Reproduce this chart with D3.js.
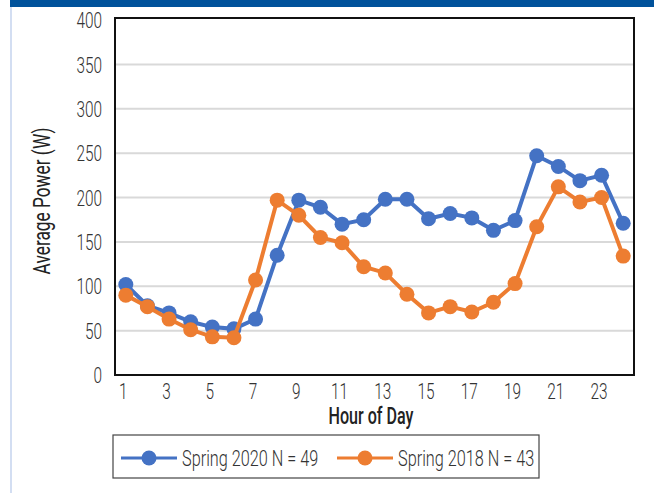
<!DOCTYPE html>
<html>
<head>
  <script src="https://d3js.org/d3.v7.min.js"></script>
  <style>
    body { margin: 0; background: #fff; }
    svg { display: block; }
    text { font-family: Roboto, "DejaVu Sans", sans-serif; font-weight: 300; fill: #333; }
  </style>
</head>
<body>
  <svg width="654" height="493"></svg>
  <script>
    // hours and the two seasons
    var hours = d3.range(1, 25);
    var spring2020 = [102, 78, 70, 60, 54, 52, 63, 135, 197, 189, 170, 175, 198, 198, 176, 182, 177, 163, 174, 247, 235, 219, 225, 171];
    var spring2018 = [90, 77, 63, 51, 43, 42, 107, 197, 180, 155, 149, 122, 115, 91, 70, 77, 71, 82, 103, 167, 212, 195, 200, 134];
    var yTicks = [0, 50, 100, 150, 200, 250, 300, 350, 400];
    var xTickLabels = [1, 3, 5, 7, 9, 11, 13, 15, 17, 19, 21, 23];
    var seriesNames = ["Spring 2020 N = 49", "Spring 2018 N = 43"];
    var colors = ["#4472c4", "#ed7d31"];

    var svg = d3.select("svg");
    var mLeft = 115, mRight = 634, mTop = 20, mBottom = 375;
    var squeeze = "scale(0.7,1)";

    // page decoration
    svg.append("rect").attr("x", 10).attr("y", 0).attr("width", 644).attr("height", 7).attr("fill", "#00529b");
    svg.append("line").attr("x1", 11).attr("x2", 11).attr("y1", 7).attr("y2", 493)
      .attr("stroke", "#c5d3ee").attr("stroke-width", 1.5);

    var x = d3.scalePoint().domain(hours).range([mLeft + 10.8, mRight - 10.8]);
    var y = d3.scaleLinear().domain([0, 400]).range([mBottom, mTop]);

    // gridlines
    svg.append("g").selectAll("line").data(yTicks.slice(1, -1)).enter().append("line")
      .attr("x1", mLeft).attr("x2", mRight)
      .attr("y1", function(d) { return y(d); }).attr("y2", function(d) { return y(d); })
      .attr("stroke", "#d9d9d9").attr("stroke-width", 2);

    // y axis
    var yAxis = svg.append("g").attr("transform", "translate(" + (mLeft - 13) + ",0)")
      .call(d3.axisLeft(y).tickValues(yTicks).tickSize(0).tickPadding(0));
    yAxis.select(".domain").remove();
    yAxis.selectAll("text").attr("font-family", null).attr("font-size", null)
      .style("font-size", "22px").attr("dy", "0.35em").attr("fill", "#333").attr("transform", squeeze);

    // x axis
    var xAxis = svg.append("g").attr("transform", "translate(0," + (mBottom + 5) + ")")
      .call(d3.axisBottom(x).tickValues(xTickLabels).tickSize(0).tickPadding(0));
    xAxis.select(".domain").remove();
    xAxis.selectAll("text").style("font-size", "22px").attr("dy", "0.85em").attr("fill", "#333")
      .attr("transform", "translate(-3,0) " + squeeze);
    svg.selectAll(".tick text").style("font-family", "Roboto, sans-serif");

    // lines and markers
    [spring2020, spring2018].forEach(function(vals, i) {
      var pts = hours.map(function(h, j) { return {h: h, v: vals[j]}; });
      svg.append("path").datum(pts)
        .attr("fill", "none").attr("stroke", colors[i]).attr("stroke-width", 4)
        .attr("d", d3.line().x(function(d) { return x(d.h); }).y(function(d) { return y(d.v); }));
      svg.append("g").selectAll("circle").data(pts).enter().append("circle")
        .attr("cx", function(d) { return x(d.h); }).attr("cy", function(d) { return y(d.v); })
        .attr("r", 7.5).attr("fill", colors[i]);
    });

    // frame
    svg.append("rect").attr("x", mLeft).attr("y", mTop - 2).attr("width", mRight - mLeft).attr("height", mBottom - mTop + 2)
      .attr("fill", "none").attr("stroke", "#111").attr("stroke-width", 2);

    // axis titles
    svg.append("text").attr("transform", "translate(371,424) " + squeeze).attr("text-anchor", "middle")
      .style("font-size", "23px").style("font-weight", "500").style("fill", "#222").text("Hour of Day");
    svg.append("text").attr("transform", "translate(50,201) rotate(-90) scale(0.72,1)").attr("text-anchor", "middle")
      .style("font-size", "24px").style("font-weight", "400").style("fill", "#222").text("Average Power (W)");

    // legend
    var lg = svg.append("g");
    lg.append("rect").attr("x", 113).attr("y", 435).attr("width", 426).attr("height", 43)
      .attr("fill", "#fff").attr("stroke", "#444").attr("stroke-width", 1.2);
    var lx = [121, 337];
    seriesNames.forEach(function(name, i) {
      lg.append("line").attr("x1", lx[i]).attr("x2", lx[i] + 56).attr("y1", 458).attr("y2", 458)
        .attr("stroke", colors[i]).attr("stroke-width", 3);
      lg.append("circle").attr("cx", lx[i] + 28).attr("cy", 458).attr("r", 7.5).attr("fill", colors[i]);
      lg.append("text").attr("transform", "translate(" + (lx[i] + 61) + ",458) scale(0.74,1)")
        .attr("dy", "0.35em").style("font-size", "22px").text(name);
    });
  </script>
</body>
</html>
